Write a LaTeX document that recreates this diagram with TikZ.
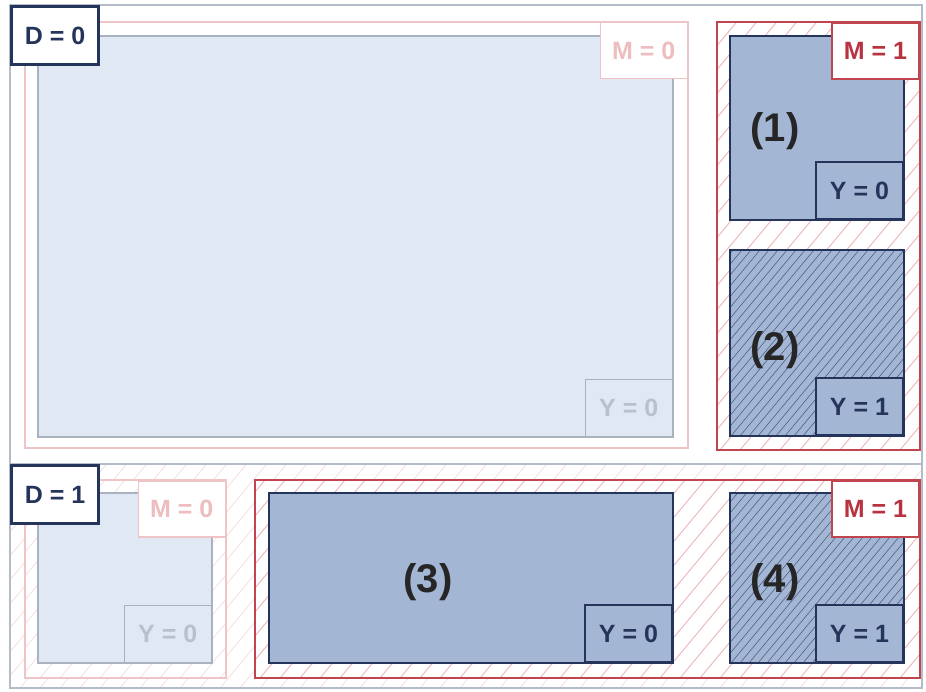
\documentclass[tikz,border=0pt]{standalone}
\usepackage{fontspec}
\setmainfont{Liberation Sans}
\definecolor{navy}{HTML}{24345A}
\definecolor{boxfill}{HTML}{A3B7D5}
\definecolor{lightfill}{HTML}{DFE8F3}
\definecolor{lightborder}{HTML}{A9B3C0}
\definecolor{lighttext}{HTML}{B8C0CC}
\definecolor{pinkline}{HTML}{EFC4C6}
\definecolor{pinktext}{HTML}{EDBDBF}
\definecolor{redline}{HTML}{C0454F}
\definecolor{redtext}{HTML}{B83240}
\definecolor{outergray}{HTML}{B4BCC8}
\definecolor{hatchpink}{HTML}{E8B0B3}
\definecolor{hatchfaint}{HTML}{F4E0E1}
\definecolor{hatchnavy}{HTML}{4F6288}
\newcommand\hatchrect[6]{%
  \begin{scope}
    \clip (#1,#2) rectangle (#3,#4);
    \pgfmathsetmacro\hsecond{-700+#5}
    \foreach \s in {-700,\hsecond,...,950} \draw[#6] (\s,#4) -- ++(400,-480);
  \end{scope}}
\begin{document}
\begin{tikzpicture}[x=1pt,y=-1pt,
  lbl/.style={font=\fontsize{25}{27}\selectfont\bfseries, inner sep=0pt,
    minimum width=87pt, minimum height=57pt},
  dlbl/.style={lbl, draw=navy, line width=3pt, fill=white, text=navy, minimum height=58pt},
  mzero/.style={lbl, draw=pinkline, line width=1.5pt, fill=white, text=pinktext, minimum height=56pt},
  mone/.style={lbl, draw=redline, line width=2pt, fill=white, text=redtext, minimum height=56pt},
  yfull/.style={lbl, draw=navy, line width=2pt, fill=boxfill, text=navy},
  ylight/.style={lbl, draw=lightborder, line width=1.5pt, fill=lightfill, text=lighttext},
  big/.style={font=\fontsize{40}{44}\selectfont\bfseries, text=black!85, inner sep=0pt},
  databox/.style={draw=navy, line width=2pt, fill=boxfill},
  lightbox/.style={draw=lightborder, line width=1.5pt, fill=lightfill},
  mzerobox/.style={draw=pinkline, line width=1.5pt},
  monebox/.style={draw=redline, line width=2pt},
  outer/.style={draw=outergray, line width=2pt}
]
\useasboundingbox (0,0) rectangle (926,692);
\fill[white] (0,0) rectangle (926,692);

% D = 1 faint hatching over whole lower region
\hatchrect{10}{464}{922}{688}{20}{hatchfaint, line width=0.8pt}

% outer frames
\draw[outer] (10,5) rectangle (922,688);
\draw[outer] (10,464) -- (922,464);

% ---------- D = 0 ----------
\draw[mzerobox] (25,22) rectangle (688,448);
\draw[lightbox] (38,36) rectangle (673,437);
\node[ylight, anchor=south east] (y00) at (673,437) {Y = 0};
\node[mzero, anchor=north east] (m00) at (688,22) {M = 0};

\hatchrect{717}{22}{920}{450}{20}{hatchpink, line width=0.8pt}
\draw[monebox] (717,22) rectangle (920,450);
\draw[databox] (730,36) rectangle (904,220);
\node[big] (n1) at (775,131) {(1)};
\node[yfull, anchor=south east] (y1) at (904,220) {Y = 0};
\node[mone, anchor=north east] (m01) at (920,22) {M = 1};

\draw[databox] (730,250) rectangle (904,436);
\hatchrect{730}{250}{904}{436}{9}{hatchnavy, line width=0.6pt}
\draw[navy, line width=2pt] (730,250) rectangle (904,436);
\node[big] (n2) at (775,350) {(2)};
\node[yfull, anchor=south east] (y2) at (904,436) {Y = 1};

\node[dlbl, anchor=north west] (d0) at (10,5) {D = 0};

% ---------- D = 1 ----------
\fill[white] (25,480) rectangle (226,678);
\hatchrect{25}{480}{226}{678}{20}{hatchfaint, line width=0.8pt}
\draw[mzerobox] (25,480) rectangle (226,678);
\draw[lightbox] (38,493) rectangle (212,663);
\node[ylight, anchor=south east] (y10) at (212,663) {Y = 0};
\node[mzero, anchor=north east] (m10) at (226,480) {M = 0};

\fill[white] (255,480) rectangle (920,678);
\hatchrect{255}{480}{920}{678}{20}{hatchpink, line width=0.8pt}
\draw[monebox] (255,480) rectangle (920,678);
\draw[databox] (269,493) rectangle (673,663);
\node[big] (n3) at (428,582) {(3)};
\node[yfull, anchor=south east] (y3) at (673,663) {Y = 0};

\draw[databox] (730,493) rectangle (904,663);
\hatchrect{730}{493}{904}{663}{9}{hatchnavy, line width=0.6pt}
\draw[navy, line width=2pt] (730,493) rectangle (904,663);
\node[big] (n4) at (775,582) {(4)};
\node[yfull, anchor=south east] (y4) at (904,663) {Y = 1};
\node[mone, anchor=north east] (m11) at (920,480) {M = 1};

\node[dlbl, anchor=north west] (d1) at (10,464) {D = 1};
\end{tikzpicture}
\end{document}
